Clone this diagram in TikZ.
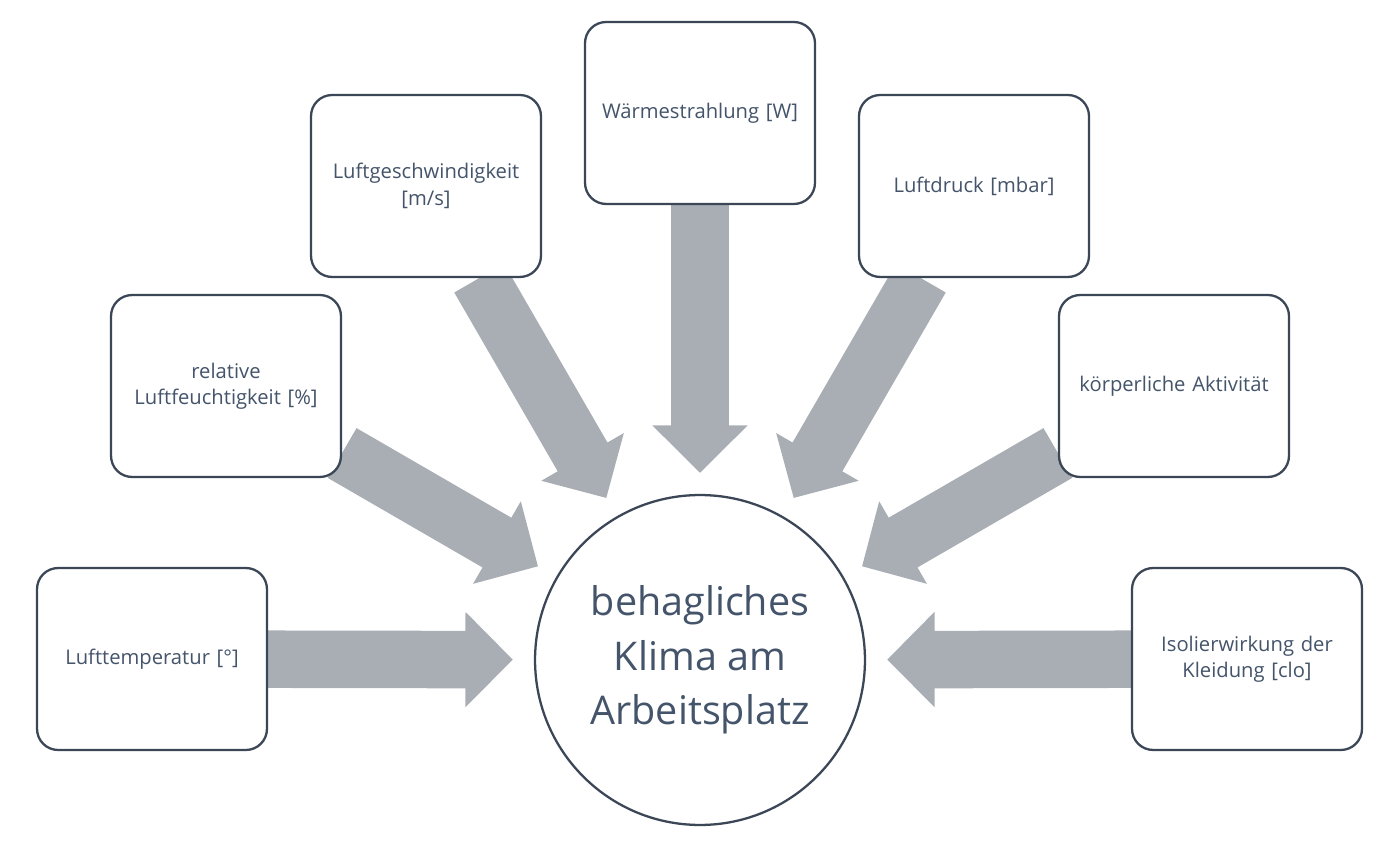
\documentclass[tikz,border=0pt]{standalone}
\usepackage{fontspec}
\setmainfont{Open Sans}
\usetikzlibrary{arrows.meta,backgrounds}
\definecolor{boxline}{HTML}{3B4656}
\definecolor{txt}{HTML}{44546A}
\definecolor{arrowgray}{HTML}{A9ADB4}
\begin{document}
\begin{tikzpicture}[x=0.02cm,y=-0.02cm,
    box node/.style={rectangle,rounded corners=12pt,draw=boxline,line width=1.3pt,fill=white,
      minimum width=4.6cm,minimum height=3.64cm,text width=4.3cm,align=center,
      font=\fontsize{11.5}{15}\selectfont,text=txt},
    main node/.style={circle,draw=boxline,line width=1.3pt,fill=white,minimum size=6.6cm,
      align=center,font=\fontsize{22.5}{31}\selectfont,text=txt},
    flow/.style={draw=arrowgray,fill=arrowgray,line width=1.15cm,-{Triangle[length=0.95cm,width=1.85cm]},shorten >=0.42cm}]
  \useasboundingbox (0,0) rectangle (1400,844);
  \node[main node] (klima) at (700,660) {behagliches\\Klima am\\Arbeitsplatz};
  % factors
  \node[box node] (temp) at (152,659) {Lufttemperatur [°]};
  \node[box node] (feucht) at (226,386) {relative\\Luftfeuchtigkeit [\%]};
  \node[box node] (geschw) at (426,186) {Luftgeschwindigkeit\\{}[m/s]};
  \node[box node] (waerme) at (700,113) {Wärmestrahlung [W]};
  \node[box node] (druck) at (974,186) {Luftdruck [mbar]};
  \node[box node] (aktiv) at (1174,386) {körperliche Aktivität};
  \node[box node] (kleid) at (1247,659) {Isolierwirkung der\\Kleidung [clo]};
  % arrows
  \begin{scope}[on background layer]
    \foreach \src in {temp,feucht,geschw,waerme,druck,aktiv,kleid}
      \draw[flow] (\src) -- (klima);
  \end{scope}
\end{tikzpicture}
\end{document}
